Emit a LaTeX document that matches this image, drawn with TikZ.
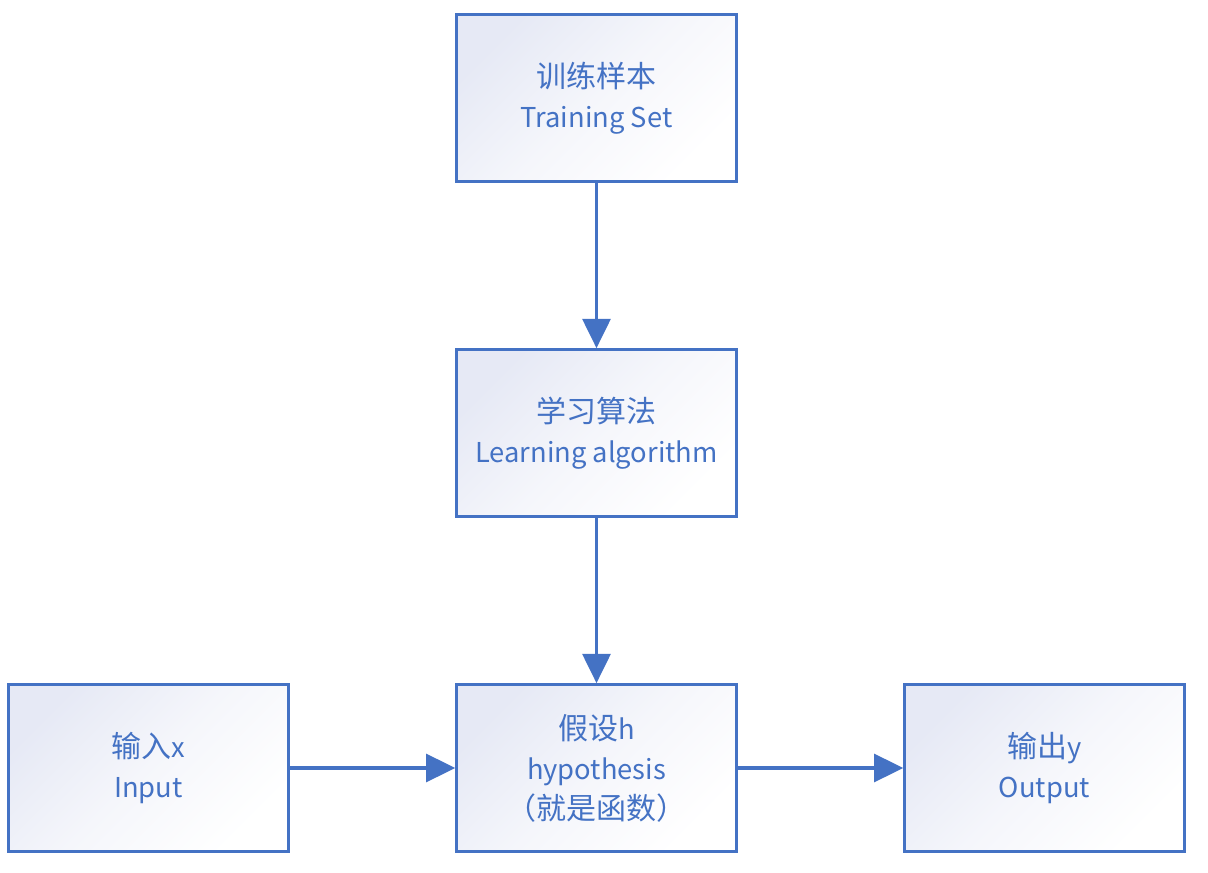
\documentclass[tikz,border=0pt]{standalone}
\usepackage{fontspec}
\setmainfont{Noto Sans CJK SC}
\usetikzlibrary{arrows.meta}

\definecolor{boxblue}{HTML}{4472C4}
\definecolor{boxtint}{HTML}{E6E9F5}
\newcommand{\hanzi}[1]{{\fontsize{22.5}{30}\selectfont #1}}

\tikzset{
    stagebox/.style={draw=boxblue,line width=2.25pt,top color=boxtint,bottom color=white,
        middle color=white!60!boxtint,
        shading angle=45,minimum width=209.5pt,minimum height=125pt,inner sep=0pt,
        align=center,text=boxblue,font=\fontsize{20.5}{30}\selectfont},
    flow/.style={draw=boxblue,line width=2.4pt,-{Triangle[width=21pt,length=22pt]}}
}

\begin{document}
\begin{tikzpicture}[x=0.75pt,y=-0.75pt]
    \useasboundingbox (0,0) rectangle (1208,873);
    \node[stagebox] (train) at (596.5,98) {\hanzi{训练样本}\\Training Set};
    \node[stagebox] (learn) at (596.5,433) {\hanzi{学习算法}\\Learning algorithm};
    \node[stagebox] (input) at (148.5,768) {\hanzi{输入}x\\Input};
    \node[stagebox] (hypo) at (596.5,768) {\hanzi{假设}h\\hypothesis\\\hanzi{（就是函数）}};
    \node[stagebox] (output) at (1044.5,768) {\hanzi{输出}y\\Output};
    \draw[flow] (train) -- (learn);
    \draw[flow] (learn) -- (hypo);
    \draw[flow] (input) -- (hypo);
    \draw[flow] (hypo) -- (output);
\end{tikzpicture}
\end{document}
